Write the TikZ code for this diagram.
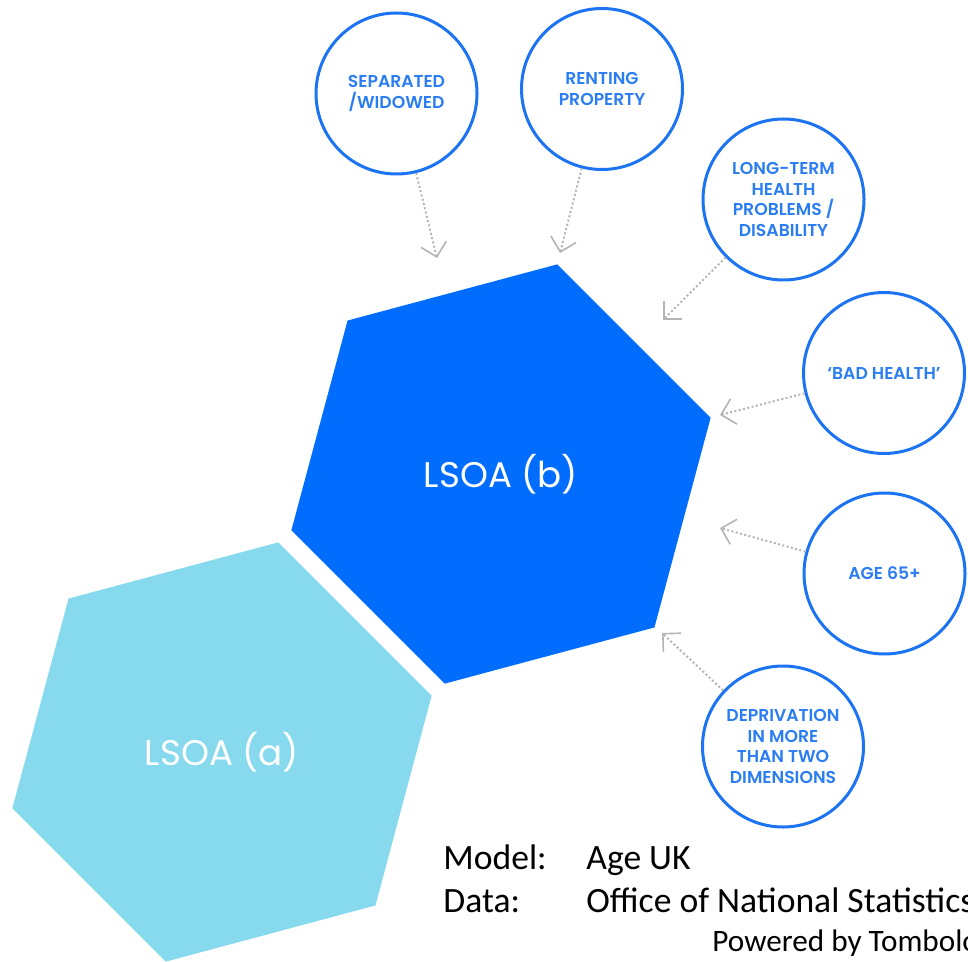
\documentclass[tikz,border=0pt]{standalone}
\usepackage{fontspec}
\usepackage{xcolor}
\usepackage{tikz}
\usetikzlibrary{positioning, shapes.geometric, arrows.meta}
\newfontfamily\ringfont{Poppins SemiBold}
\newfontfamily\hexfont{Poppins}
\newfontfamily\notefont{Carlito}
\definecolor{lsoadark}{HTML}{006DFF}
\definecolor{lsoalight}{HTML}{87D9EE}
\definecolor{ringblue}{HTML}{1C74F2}
\definecolor{ringtext}{HTML}{2A7DF2}
\definecolor{linkgray}{HTML}{B4B4B4}

\begin{document}
\begin{tikzpicture}[x=0.5pt, y=-0.5pt,
  factor node/.style={circle,draw=ringblue,line width=1.5pt,minimum size=80.5pt,inner sep=0pt,
    align=center,text=ringtext,font=\ringfont\fontsize{8.6}{10.35}\selectfont},
  area node/.style={regular polygon,regular polygon sides=6,shape border rotate=15,
    minimum size=217pt,inner sep=0pt,text=white,font=\hexfont\fontsize{17.8}{22}\selectfont},
  note node/.style={anchor=base west,inner sep=0pt,font=\notefont\fontsize{17.8}{21}\selectfont},
  link/.style={draw=linkgray,line width=1pt,dash pattern=on 1pt off 1.2pt,
    -{Straight Barb[length=6.5pt,width=13pt,line width=0.8pt]}}]

\clip (0,0) rectangle (968,962);

% the two areas
\node[area node, fill=lsoalight] (A) at (222,752) {LSOA (a)};
\node[area node, fill=lsoadark] (B) at (501,474) {LSOA (b)};

% factors
\node[factor node] (sepwid) at (396.5,93.5) {SEPARATED\\/WIDOWED};
\node[factor node] (renting) at (602,89) {RENTING\\PROPERTY};
\node[factor node] (longterm) at (783.5,199.5) {LONG-TERM\\HEALTH\\PROBLEMS /\\DISABILITY};
\node[factor node] (badhealth) at (884,373) {‘BAD HEALTH’};
\node[factor node] (age) at (884.5,573.5) {AGE 65+};
\node[factor node] (depriv) at (783,746.5) {DEPRIVATION\\IN MORE\\THAN TWO\\DIMENSIONS};

\coordinate (tsepwid) at (437,258);
\coordinate (trenting) at (560,253);
\coordinate (tlongterm) at (663,320);
\coordinate (tbadhealth) at (720,415);
\coordinate (tage) at (720,528);
\coordinate (tdepriv) at (662,633);

\path[link]
(sepwid) edge (tsepwid)
(renting) edge (trenting)
(longterm) edge (tlongterm)
(badhealth) edge (tbadhealth)
(age) edge (tage)
(depriv) edge (tdepriv)
;

% credits
\node[note node] (model) at (443,869) {Model:};
\node[note node] (modelby) at (586,869) {Age UK};
\node[note node] (data) at (443,912) {Data:};
\node[note node] (datafrom) at (586,912) {Office of National Statistics};
\node[note node, font=\notefont\fontsize{15.6}{19}\selectfont] (power) at (712,951) {Powered by Tombolo};

\end{tikzpicture}
\end{document}
